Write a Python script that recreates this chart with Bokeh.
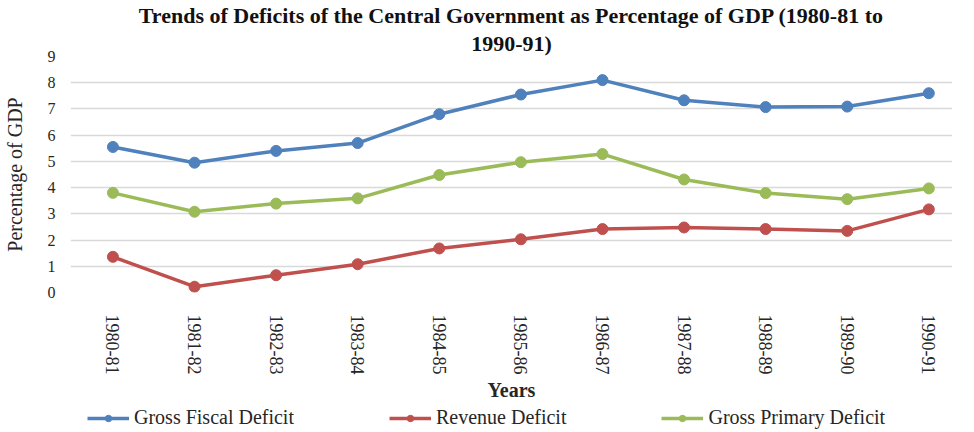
from bokeh.plotting import figure
from bokeh.models import (Range1d, FixedTicker, Title, Legend, LegendItem)
from bokeh.layouts import column
from bokeh.embed import file_html
from bokeh.resources import INLINE

years = ["1980-81", "1981-82", "1982-83", "1983-84", "1984-85", "1985-86",
         "1986-87", "1987-88", "1988-89", "1989-90", "1990-91"]
gross_fiscal = [5.55, 4.95, 5.4, 5.7, 6.8, 7.55, 8.1, 7.33, 7.07, 7.09, 7.6]
revenue = [1.36, 0.22, 0.66, 1.08, 1.68, 2.03, 2.42, 2.48, 2.42, 2.35, 3.17]
gross_primary = [3.8, 3.08, 3.39, 3.59, 4.48, 4.97, 5.28, 4.31, 3.79, 3.56, 3.97]
y_ticks = [0, 1, 2, 3, 4, 5, 6, 7, 8, 9]

series = [
    ("Gross Fiscal Deficit", gross_fiscal, "#4F81BD"),
    ("Revenue Deficit", revenue, "#C0504D"),
    ("Gross Primary Deficit", gross_primary, "#9BBB59"),
]

SERIF = "Liberation Serif"
xs = list(range(len(years)))

p = figure(frame_width=882, frame_height=236,
           output_backend="svg", toolbar_location=None,
           x_range=Range1d(-0.52, 10.29), y_range=Range1d(0, 9),
           min_border_left=0, min_border_right=0, min_border_top=53,
           min_border_bottom=0)
p.outline_line_color = None
p.background_fill_color = "white"
p.border_fill_color = "white"

t2 = Title(text="1990-91)", align="center", text_font=SERIF,
           text_font_size="22px", text_font_style="bold", text_color="#111111",
           standoff=2)
t1 = Title(text="Trends of Deficits of the Central Government as Percentage of GDP (1980-81 to",
           align="center", text_font=SERIF, text_font_size="22px",
           text_font_style="bold", text_color="#111111", standoff=0)
p.add_layout(t2, "above")
p.add_layout(t1, "above")

p.xaxis.ticker = FixedTicker(ticks=xs)
p.xaxis.major_label_overrides = {i: y for i, y in enumerate(years)}
p.xaxis.major_label_orientation = "vertical"
p.xaxis.major_label_text_font = SERIF
p.xaxis.major_label_text_font_size = "18px"
p.xaxis.major_label_text_color = "#262626"
p.xaxis.major_label_standoff = 16
p.xaxis.axis_line_color = None
p.xaxis.major_tick_line_color = None
p.xaxis.minor_tick_line_color = None
p.xaxis.axis_label = "Years"
p.xaxis.axis_label_text_font = SERIF
p.xaxis.axis_label_text_font_size = "20px"
p.xaxis.axis_label_text_font_style = "bold"
p.xaxis.axis_label_text_color = "#262626"
p.xaxis.axis_label_standoff = 2

p.yaxis.ticker = FixedTicker(ticks=y_ticks)
p.yaxis.major_label_text_font = SERIF
p.yaxis.major_label_text_font_size = "16px"
p.yaxis.major_label_text_color = "#262626"
p.yaxis.major_label_standoff = 9
p.yaxis.axis_line_color = None
p.yaxis.major_tick_line_color = None
p.yaxis.minor_tick_line_color = None
p.yaxis.axis_label = "Percentage of GDP"
p.yaxis.axis_label_text_font = SERIF
p.yaxis.axis_label_text_font_size = "20px"
p.yaxis.axis_label_text_font_style = "normal"
p.yaxis.axis_label_text_color = "#262626"
p.yaxis.axis_label_standoff = 19

p.xgrid.grid_line_color = None
p.ygrid.grid_line_color = "#D9D9D9"
p.ygrid.grid_line_width = 1.5

for name, vals, color in series:
    p.line(xs, vals, line_color=color, line_width=3.5)
    p.scatter(xs, vals, size=11, fill_color=color, line_color=color)

# legend strip: same series drawn outside its visible range, legend only
q = figure(width=958, height=28, output_backend="svg", toolbar_location=None,
           x_range=Range1d(-100, -99), y_range=Range1d(0, 1),
           min_border_left=0, min_border_right=0, min_border_top=0,
           min_border_bottom=0)
q.axis.visible = False
q.grid.visible = False
q.outline_line_color = None
q.background_fill_color = "white"
q.border_fill_color = "white"
items = []
for name, vals, color in series:
    ln = q.line(xs, vals, line_color=color, line_width=3.5)
    sc = q.scatter(xs, vals, size=9, fill_color=color, line_color=color)
    items.append(LegendItem(label=name, renderers=[ln, sc]))

legend = Legend(items=items, orientation="horizontal", location=(17, 3),
                label_text_font=SERIF, label_text_font_size="20px",
                label_text_color="#262626", glyph_width=42, glyph_height=16,
                label_standoff=5, spacing=95, padding=0, margin=0,
                border_line_color=None, background_fill_alpha=0)
q.add_layout(legend, "center")

open("out.html", "w").write(file_html(column(p, q, spacing=0), INLINE))
